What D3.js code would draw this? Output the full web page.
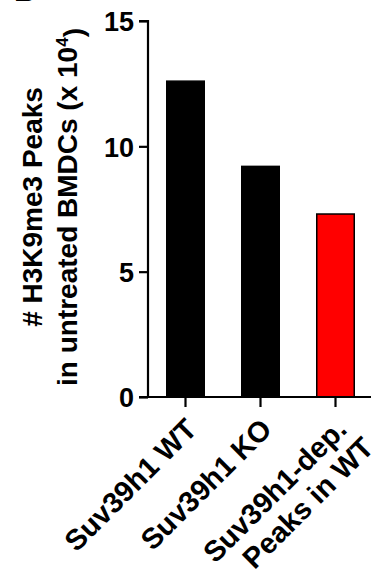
<!DOCTYPE html>
<html>
<head>
<meta charset="utf-8">
<script src="https://cdn.jsdelivr.net/npm/d3@7"></script>
<style>
  body { margin: 0; background: white; }
  svg { display: block; font-family: "Liberation Sans", Arial, sans-serif; font-weight: bold; }
</style>
</head>
<body>
<div id="chart"></div>
<script>
// données
const categories = ["wt", "ko", "dep"];
const peaks = [12.6, 9.2, 7.3];
const barColors = ["#000000", "#000000", "#ff0000"];
const yTicks = [0, 5, 10, 15];
// libellés, une entrée par ligne
const xLabels = [
  ["Suv39h1 WT"],
  ["Suv39h1 KO"],
  ["Suv39h1-dep.", "Peaks in WT"]
];

function drawBarChart() {
    const width = 371, height = 574;
    const margin = {top: 21, left: 148, bottom: 177};

    const svg = d3.select("#chart").append("svg")
        .attr("width", width).attr("height", height);

    const y = d3.scaleLinear().domain([0, 15]).range([height - margin.bottom, margin.top]);
    const x = d3.scaleBand().domain(categories)
        .range([margin.left, margin.left + 225])
        .paddingInner(0.5).paddingOuter(0.25);

    // lettre du panneau (coupée en haut)
    svg.append("text").attr("x", 14).attr("y", 1)
        .style("font-size", "30px").text("B");

    // barres
    svg.append("g").selectAll("rect")
        .data(peaks).join("rect")
        .attr("x", (d, i) => x(categories[i]))
        .attr("width", x.bandwidth())
        .attr("y", d => y(d))
        .attr("height", d => y(0) - y(d))
        .attr("fill", (d, i) => barColors[i])
        .attr("stroke", "#000").attr("stroke-width", 1.5);

    // axe Y
    const yAxis = svg.append("g").attr("transform", `translate(${margin.left},0)`)
        .call(d3.axisLeft(y).tickValues(yTicks).tickSize(9).tickPadding(5));
    yAxis.select(".domain").attr("stroke-width", 2.2).attr("d", `M-9,${y(15)}H0V${y(0)}`);
    yAxis.selectAll(".tick line").attr("stroke-width", 2.2);
    yAxis.selectAll(".tick text").style("font-size", "27px").style("font-weight", "bold")
        .attr("font-family", null).attr("fill", "#000").attr("dy", "0.36em");

    // axe X
    const xAxis = svg.append("g").attr("transform", `translate(0,${y(0)})`)
        .call(d3.axisBottom(x).tickSize(10).tickFormat(""));
    xAxis.select(".domain").attr("stroke-width", 2.2).attr("d", `M${margin.left - 9},0H${width + 5}`);
    xAxis.selectAll(".tick line").attr("stroke-width", 2.2);

    // libellés X inclinés (une ligne = un texte)
    const lh = 32;
    categories.forEach((c, i) => {
        const cx = x(c) + x.bandwidth() / 2;
        const g = svg.append("g")
            .attr("transform", `translate(${cx + 13},${y(0) + 34}) rotate(-45)`);
        xLabels[i].forEach((line, j) => {
            g.append("text").attr("text-anchor", "end")
                .attr("x", j * 6).attr("y", j * lh)
                .style("font-size", "29px").text(line);
        });
    });

    // titre de l'axe Y
    const yc = (y(0) + y(15)) / 2 - 2;
    const title = svg.append("text").attr("text-anchor", "middle")
        .attr("transform", `translate(42,${yc}) rotate(-90)`)
        .style("font-size", "28px");
    title.append("tspan").attr("x", 0).text("# H3K9me3 Peaks");
    title.append("tspan").attr("x", 0).attr("dy", "1.25em").text("in untreated BMDCs (x 10");
    title.append("tspan").attr("dy", "-0.55em").style("font-size", "17px").text("4");
    title.append("tspan").attr("dy", "0.55em").text(")");
}

drawBarChart();
</script>
</body>
</html>
